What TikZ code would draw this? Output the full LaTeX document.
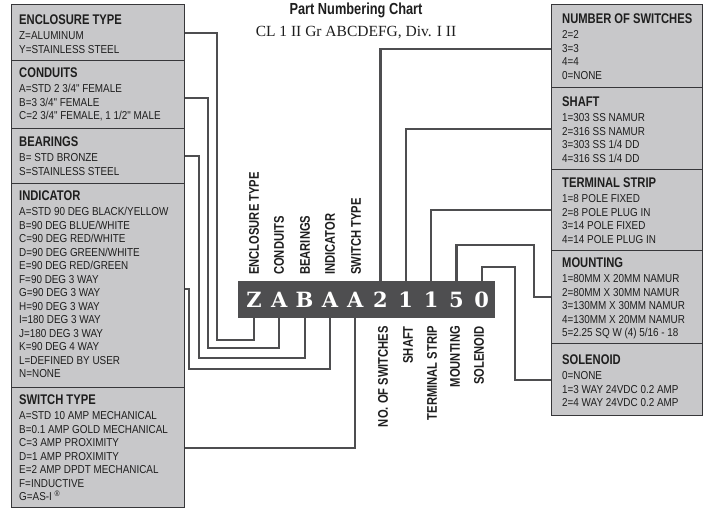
\documentclass[tikz,border=0pt]{standalone}
\usepackage{fontspec}
\setmainfont{Liberation Serif}
\newfontfamily\condfont[FakeStretch=0.8]{Liberation Sans}
\newfontfamily\itemfont[FakeStretch=0.86]{Liberation Sans}
\newfontfamily\slabfont{DejaVu Serif}
\usetikzlibrary{positioning,calc}
\definecolor{boxgray}{RGB}{200,200,202}
\definecolor{edgegray}{RGB}{55,55,58}
\definecolor{wiregray}{RGB}{78,78,80}
\definecolor{inkgray}{RGB}{30,30,30}
\newcommand{\boxtitle}{\condfont\bfseries\fontsize{14}{14}\selectfont}

\begin{document}
\begin{tikzpicture}[x=1pt, y=-1pt,
    chartbox/.style={draw=edgegray, line width=1.3pt, fill=boxgray,
      anchor=north west, inner sep=0pt},
    leftbox/.style={chartbox, minimum width=173pt},
    rightbox/.style={chartbox, minimum width=151pt},
    boxtext/.style={anchor=north west, inner sep=0pt, align=left, text=inkgray,
      font=\itemfont\fontsize{11.5}{13.5}\selectfont},
    vlabel/.style={rotate=90, inner sep=0pt, text=inkgray, font=\boxtitle},
    digit/.style={text=white, font=\slabfont\bfseries\fontsize{21}{21}\selectfont},
    wire/.style={draw=wiregray, line width=2.2pt}]
    \useasboundingbox (0,0) rectangle (705,508);
    % heading
    \node[anchor=base, text=inkgray, font=\condfont\bfseries\fontsize{16}{16}\selectfont]
      (title) at (356,15) {Part Numbering Chart};
    \node[anchor=base, text=inkgray, font=\fontsize{15.5}{16}\selectfont]
      (subtitle) at (356,37) {CL 1 II Gr ABCDEFG, Div. I II};
    % left column
    \node[leftbox, minimum height=56pt]  (enc)  at (11,4)   {};
    \node[leftbox, minimum height=68pt]  (cond) at (11,60)  {};
    \node[leftbox, minimum height=55pt]  (bear) at (11,128) {};
    \node[leftbox, minimum height=204pt] (ind)  at (11,183) {};
    \node[leftbox, minimum height=120pt] (sw)   at (11,387) {};
    \node[boxtext] (enc-txt) at ([shift={(8,11)}]enc.north west)
      {{\boxtitle ENCLOSURE TYPE}\\[1.5pt] Z=ALUMINUM\\ Y=STAINLESS STEEL};
    \node[boxtext] (cond-txt) at ([shift={(8,8)}]cond.north west)
      {{\boxtitle CONDUITS}\\[1.5pt] A=STD 2 3/4" FEMALE\\ B=3 3/4" FEMALE\\ C=2 3/4" FEMALE, 1 1/2" MALE};
    \node[boxtext] (bear-txt) at ([shift={(8,9)}]bear.north west)
      {{\boxtitle BEARINGS}\\[1.5pt] B= STD BRONZE\\ S=STAINLESS STEEL};
    \node[boxtext] (ind-txt) at ([shift={(8,8)}]ind.north west)
      {{\boxtitle INDICATOR}\\[1.5pt] A=STD 90 DEG BLACK/YELLOW\\ B=90 DEG BLUE/WHITE\\
       C=90 DEG RED/WHITE\\ D=90 DEG GREEN/WHITE\\ E=90 DEG RED/GREEN\\
       F=90 DEG 3 WAY\\ G=90 DEG 3 WAY\\ H=90 DEG 3 WAY\\ I=180 DEG 3 WAY\\
       J=180 DEG 3 WAY\\ K=90 DEG 4 WAY\\ L=DEFINED BY USER\\ N=NONE};
    \node[boxtext] (sw-txt) at ([shift={(8,8)}]sw.north west)
      {{\boxtitle SWITCH TYPE}\\[1.5pt] A=STD 10 AMP MECHANICAL\\ B=0.1 AMP GOLD MECHANICAL\\
       C=3 AMP PROXIMITY\\ D=1 AMP PROXIMITY\\ E=2 AMP DPDT MECHANICAL\\
       F=INDUCTIVE\\ G=AS-I \textsuperscript{®}};
    % right column
    \node[rightbox, minimum height=83pt] (nsw)   at (551,4)   {};
    \node[rightbox, minimum height=82pt] (shaft) at (551,87)  {};
    \node[rightbox, minimum height=81pt] (term)  at (551,169) {};
    \node[rightbox, minimum height=93pt] (mount) at (551,250) {};
    \node[rightbox, minimum height=72pt] (sol)   at (551,343) {};
    \node[boxtext] (nsw-txt) at ([shift={(11,10)}]nsw.north west)
      {{\boxtitle NUMBER OF SWITCHES}\\[1.5pt] 2=2\\ 3=3\\ 4=4\\ 0=NONE};
    \node[boxtext] (shaft-txt) at ([shift={(11,10)}]shaft.north west)
      {{\boxtitle SHAFT}\\[1.5pt] 1=303 SS NAMUR\\ 2=316 SS NAMUR\\ 3=303 SS 1/4 DD\\ 4=316 SS 1/4 DD};
    \node[boxtext] (term-txt) at ([shift={(11,9)}]term.north west)
      {{\boxtitle TERMINAL STRIP}\\[1.5pt] 1=8 POLE FIXED\\ 2=8 POLE PLUG IN\\ 3=14 POLE FIXED\\ 4=14 POLE PLUG IN};
    \node[boxtext] (mount-txt) at ([shift={(11,8)}]mount.north west)
      {{\boxtitle MOUNTING}\\[1.5pt] 1=80MM X 20MM NAMUR\\ 2=80MM X 30MM NAMUR\\
       3=130MM X 30MM NAMUR\\ 4=130MM X 20MM NAMUR\\ 5=2.25 SQ W (4) 5/16 - 18};
    \node[boxtext] (sol-txt) at ([shift={(11,12)}]sol.north west)
      {{\boxtitle SOLENOID}\\[1.5pt] 0=NONE\\ 1=3 WAY 24VDC 0.2 AMP\\ 2=4 WAY 24VDC 0.2 AMP};
    % part number bar
    \node[fill=wiregray, anchor=north west, inner sep=0pt,
      minimum width=257pt, minimum height=37pt] (bar) at (238,281) {};
    \foreach \ch [count=\i] in {Z,A,B,A,A,2,1,1,5,0}
      \node[digit] (d\i) at ({254+25.3*(\i-1)},299.5) {\ch};
    % field names
    \node[vlabel, anchor=west] (l-enc)  at (254,275) {ENCLOSURE TYPE};
    \node[vlabel, anchor=west] (l-cond) at (279,275) {CONDUITS};
    \node[vlabel, anchor=west] (l-bear) at (305,275) {BEARINGS};
    \node[vlabel, anchor=west] (l-ind)  at (330,275) {INDICATOR};
    \node[vlabel, anchor=west] (l-sw)   at (356,275) {SWITCH TYPE};
    \node[vlabel, anchor=east] (l-nsw)   at (383,326) {NO. OF SWITCHES};
    \node[vlabel, anchor=east] (l-shaft) at (408,326) {SHAFT};
    \node[vlabel, anchor=east] (l-term)  at (432,326) {TERMINAL STRIP};
    \node[vlabel, anchor=east] (l-mount) at (455,326) {MOUNTING};
    \node[vlabel, anchor=east] (l-sol)   at (479,326) {SOLENOID};
    % leads, left fields
    \draw[wire] (enc.east) -| (217,340) -| (bar.south -| d1);
    \draw[wire] ([yshift=-3pt]cond.east) -| (208,348) -| (bar.south -| d2);
    \draw[wire] (bear.east) -| (199,358) -| (bar.south -| d3);
    \draw[wire] ([yshift=-3pt]ind.east) -| (189,369) -| (bar.south -| d4);
    \draw[wire] (sw.east) -| (bar.south -| d5);
    % leads, right fields
    \draw[wire] (bar.north -| d6) |- ([yshift=-3pt]nsw.west);
    \draw[wire] (bar.north -| d7) |- (shaft.west);
    \draw[wire] (bar.north -| d8) |- (term.west);
    \draw[wire] (bar.north -| d9) |- (534,245) |- (mount.west);
    \draw[wire] (bar.north -| d10) |- (515,267) |- (sol.west);
\end{tikzpicture}
\end{document}
